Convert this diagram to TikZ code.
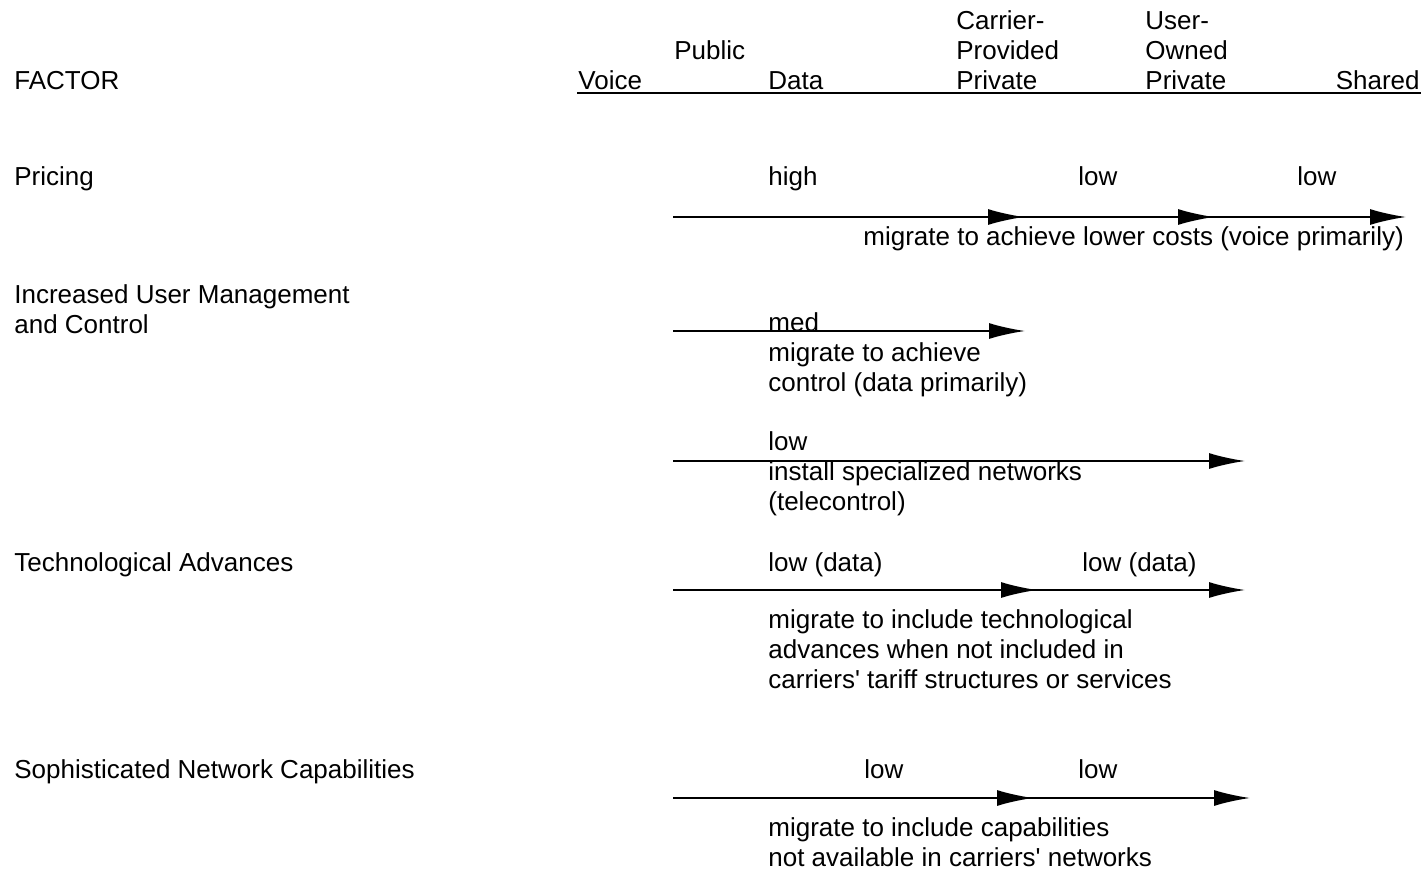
\documentclass[tikz,border=0pt]{standalone}
\usepackage{fontspec}
\setmainfont{Liberation Sans}
\newfontfamily\plainquote{Liberation Sans}[Ligatures=ResetAll]
\usetikzlibrary{arrows.meta}
\newcommand{\apos}{{\plainquote\char"27}}
\begin{document}
\begin{tikzpicture}[x=0.5pt,y=-0.5pt,
  txt/.style={inner sep=0pt,anchor=base west,align=left,font=\fontsize{13pt}{15pt}\selectfont},
  txtr/.style={txt,anchor=base east,align=right},
  flow/.style={line width=0.9pt,-{Latex[length=18pt,width=8pt]}},
  rail/.style={line width=0.9pt,shorten >=10pt}]
\useasboundingbox[fill=white] (0,0) rectangle (1426,872);

% header (multi-line nodes are placed by the baseline of their last line)
\node[txt] (factor) at (14,90) {FACTOR};
\node[txt] (voice) at (578,90) {Voice};
\node[txt] (public) at (674,60) {Public};
\node[txt] (data) at (768,90) {Data};
\node[txt] (cpp) at (956,90) {Carrier-\\Provided\\Private};
\node[txt] (uop) at (1145,90) {User-\\Owned\\Private};
\node[txtr] (shared) at (1420,90) {Shared};
\coordinate (hl) at (577,93);
\coordinate (hr) at (1421,93);
\draw[line width=0.7pt] (hl) -- (hr);

% Pricing
\node[txt] (pricing) at (14,185) {Pricing};
\node[txt] (high) at (768,185) {high};
\node[txt] (low1) at (1078,185) {low};
\node[txt] (low2) at (1297,185) {low};
\coordinate (p0) at (673,217);
\coordinate (p1) at (1024,217);
\coordinate (p2) at (1214,217);
\coordinate (p3) at (1406,217);
\draw[rail] (p0) -- (p3);
\draw[flow] (p0) -- (p1);
\draw[flow] (p1) -- (p2);
\draw[flow] (p2) -- (p3);
\node[txt] (pmig) at (863,245) {migrate to achieve lower costs (voice primarily)};

% Increased user management
\node[txt] (ium) at (14,333) {Increased User Management\\and Control};
\node[txt] (med) at (768,331) {med};
\coordinate (m0) at (673,331);
\coordinate (m1) at (1025,331);
\draw[flow] (m0) -- (m1);
\node[txt] (mmig) at (768,391) {migrate to achieve\\control (data primarily)};
\node[txt] (low3) at (768,450) {low};
\coordinate (s0) at (673,461);
\coordinate (s1) at (1245,461);
\draw[flow] (s0) -- (s1);
\node[txt] (inst) at (768,510) {install specialized networks\\(telecontrol)};

% Technological advances
\node[txt] (tech) at (14,571) {Technological Advances};
\node[txt] (lowd1) at (768,571) {low (data)};
\node[txt] (lowd2) at (1082,571) {low (data)};
\coordinate (t0) at (673,590);
\coordinate (t1) at (1037,590);
\coordinate (t2) at (1245,590);
\draw[rail] (t0) -- (t2);
\draw[flow] (t0) -- (t1);
\draw[flow] (t1) -- (t2);
\node[txt] (tmig) at (768,688) {migrate to include technological\\advances when not included in\\carriers\apos{} tariff structures or services};

% Sophisticated network capabilities
\node[txt] (soph) at (14,778) {Sophisticated Network Capabilities};
\node[txt] (low4) at (864,778) {low};
\node[txt] (low5) at (1078,778) {low};
\coordinate (n0) at (673,798);
\coordinate (n1) at (1033,798);
\coordinate (n2) at (1250,798);
\draw[rail] (n0) -- (n2);
\draw[flow] (n0) -- (n1);
\draw[flow] (n1) -- (n2);
\node[txt] (nmig) at (768,866) {migrate to include capabilities\\not available in carriers\apos{} networks};
\end{tikzpicture}
\end{document}
